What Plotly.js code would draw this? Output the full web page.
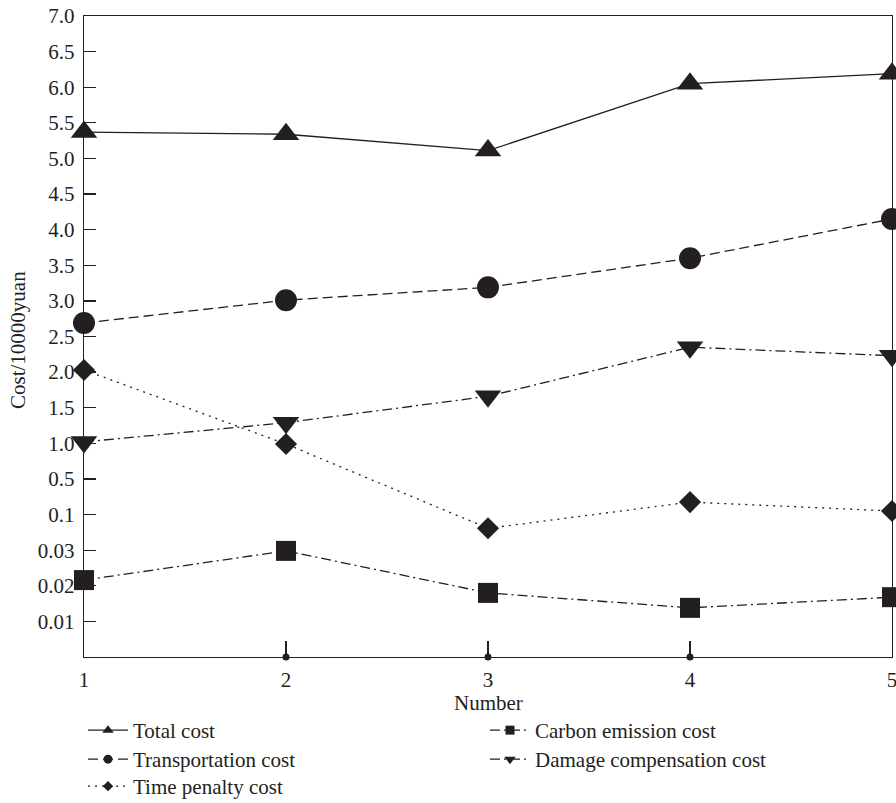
<!DOCTYPE html>
<html>
<head>
<meta charset="utf-8">
<script src="https://cdn.plot.ly/plotly-3.0.1.min.js"></script>
<style>html,body{margin:0;padding:0;background:#fff;}#chart{width:896px;height:803px;}</style>
</head>
<body>
<div id="chart"></div>
<script>
// ---- data (values in 10000 yuan) ----
const numbers = [1, 2, 3, 4, 5];
const totalCost = [5.37, 5.34, 5.11, 6.05, 6.19];
const transportationCost = [2.69, 3.01, 3.19, 3.60, 4.15];
const timePenaltyCost = [2.03, 0.99, 0.073, 0.24, 0.14];
const carbonEmissionCost = [0.0216, 0.0298, 0.018, 0.0138, 0.0168];
const damageCompensationCost = [1.02, 1.29, 1.66, 2.35, 2.23];
// axis breakpoints: evenly spaced tick values on a piecewise axis
const tickValues = [0, 0.01, 0.02, 0.03, 0.1, 0.5, 1.0, 1.5, 2.0, 2.5, 3.0, 3.5, 4.0, 4.5, 5.0, 5.5, 6.0, 6.5, 7.0];
const tickLabels = ["", "0.01", "0.02", "0.03", "0.1", "0.5", "1.0", "1.5", "2.0", "2.5", "3.0", "3.5", "4.0", "4.5", "5.0", "5.5", "6.0", "6.5", "7.0"];
const xTickDots = [2, 3, 4];
const xTitle = 'Number';
const yTitle = 'Cost/10000yuan';

// piecewise-linear scale of the y axis
function pos(v) {
  for (let i = 0; i < tickValues.length - 1; i++) {
    if (v <= tickValues[i + 1]) return i + (v - tickValues[i]) / (tickValues[i + 1] - tickValues[i]);
  }
  return tickValues.length - 1;
}
const ink = '#231f20';
const fontFam = '"Liberation Serif", "DejaVu Serif", serif';
const fs = 21;

const series = [
  {name: 'Total cost', vals: totalCost, sym: 'triangle-up', size: 23, dash: 'solid', lx: 83, ly: 732},
  {name: 'Transportation cost', vals: transportationCost, sym: 'circle', size: 22, dash: '10px,5px', lx: 83, ly: 761},
  {name: 'Time penalty cost', vals: timePenaltyCost, sym: 'diamond', size: 17, dash: '2px,5px', lx: 83, ly: 788},
  {name: 'Carbon emission cost', vals: carbonEmissionCost, sym: 'square', size: 20, dash: '10px,4px,2px,4px', lx: 485, ly: 732},
  {name: 'Damage compensation cost', vals: damageCompensationCost, sym: 'triangle-down', size: 23, dash: '10px,4px,2px,4px', lx: 485, ly: 761}
];
const legendMarkerSize = {'triangle-up': 10, 'circle': 9, 'diamond': 8, 'square': 9, 'triangle-down': 10};

const data = [];
series.forEach((s, i) => {
  data.push({
    x: numbers, y: s.vals.map(pos), name: s.name, type: 'scatter', mode: 'lines+markers',
    line: {color: ink, width: 1.3, dash: s.dash},
    marker: {symbol: s.sym, size: s.size, color: ink},
    cliponaxis: false, showlegend: false
  });
});
// legend-only entries (no points) with small symbols as in the reference key
series.forEach((s, i) => {
  data.push({
    x: [null], y: [null], name: s.name, type: 'scatter', mode: 'lines+markers',
    line: {color: ink, width: 1.3, dash: s.dash},
    marker: {symbol: s.sym, size: legendMarkerSize[s.sym], color: ink},
    legend: i === 0 ? 'legend' : 'legend' + (i + 1), showlegend: true
  });
});
data.push({x: xTickDots, y: xTickDots.map(() => 0), type: 'scatter', mode: 'markers', showlegend: false,
  marker: {symbol: 'circle', size: 7, color: ink}, cliponaxis: false, hoverinfo: 'skip'});

const legendBase = {
  orientation: 'v', xref: 'container', yref: 'container', xanchor: 'left', yanchor: 'top',
  font: {family: fontFam, size: fs, color: ink}, bgcolor: 'rgba(0,0,0,0)',
  itemwidth: 40, itemsizing: 'trace', tracegroupgap: 0
};
const layout = {
  width: 896, height: 803,
  margin: {l: 84, r: 4, t: 16, b: 146, autoexpand: false},
  paper_bgcolor: '#fff', plot_bgcolor: '#fff',
  font: {family: fontFam, size: fs, color: ink},
  showlegend: true,
  xaxis: {
    range: [1, 5], tickvals: numbers, ticktext: numbers.map(String),
    ticks: 'inside', ticklen: 16, tickwidth: 1.3, tickcolor: ink,
    showline: true, linecolor: ink, linewidth: 1.3, mirror: true,
    showgrid: false, zeroline: false, automargin: false, ticklabeloverflow: 'allow',
    ticklabelstandoff: 3,
    tickfont: {family: fontFam, size: fs, color: ink}
  },
  yaxis: {
    range: [0, tickValues.length - 1],
    tickvals: tickValues.map((v, i) => i).slice(1), ticktext: tickLabels.slice(1),
    ticks: 'inside', ticklen: 12, tickwidth: 1.3, tickcolor: ink,
    showline: true, linecolor: ink, linewidth: 1.3, mirror: true,
    showgrid: false, zeroline: false, automargin: false,
    ticklabelstandoff: 4,
    tickfont: {family: fontFam, size: fs, color: ink}
  },
  annotations: [
    {text: xTitle, xref: 'paper', yref: 'paper', x: 0.5, y: (657 - 703) / 641, xanchor: 'center', yanchor: 'middle',
     showarrow: false, font: {family: fontFam, size: fs, color: ink}},
    {text: yTitle, xref: 'paper', yref: 'paper', x: (18 - 84) / 808, y: (657 - 340) / 641, xanchor: 'center', yanchor: 'middle',
     textangle: -90, showarrow: false, font: {family: fontFam, size: fs, color: ink}}
  ]
};
series.forEach((s, i) => {
  layout[i === 0 ? 'legend' : 'legend' + (i + 1)] = Object.assign({}, legendBase, {x: s.lx / 896, y: 1 - (s.ly - 22) / 803});
});
Plotly.newPlot('chart', data, layout, {displayModeBar: false, staticPlot: true});
</script>
</body>
</html>
